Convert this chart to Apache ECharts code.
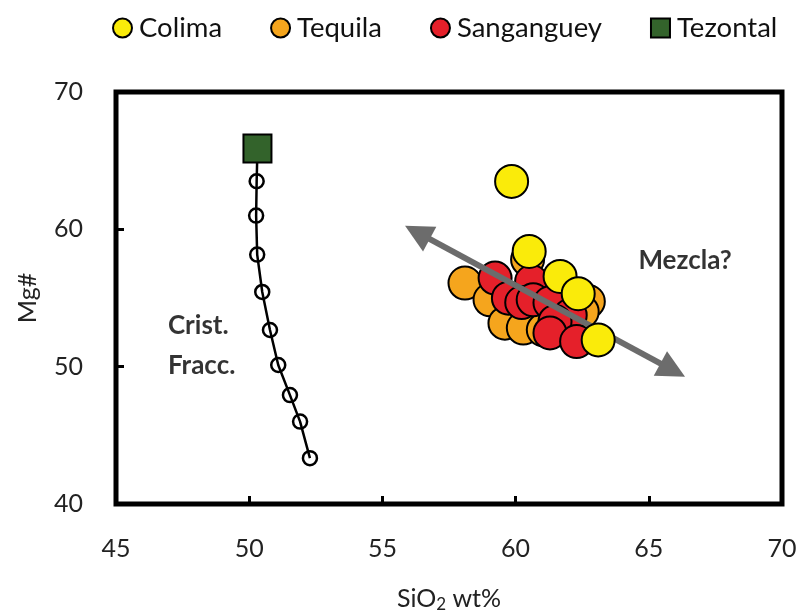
<!DOCTYPE html>
<html>
<head>
<meta charset="utf-8">
<script src="https://cdn.jsdelivr.net/npm/echarts@6/dist/echarts.min.js"></script>
<style>
  html, body { margin: 0; padding: 0; background: #fff; }
  #chart { width: 801px; height: 613px; }
</style>
</head>
<body>
<div id="chart"></div>
<script>
// SiO2 (wt%) vs Mg# for the three volcanic centres and the Tezontal parent
const colima = [
  [59.85, 63.49], [60.51, 58.39], [61.67, 56.57], [62.35, 55.31], [63.10, 51.95]
];
const tequila = [
  [58.10, 56.09], [60.45, 57.80], [59.04, 54.87], [59.60, 53.17],
  [60.29, 52.81], [61.04, 52.68], [62.73, 54.74], [62.50, 54.00]
];
const sanganguey = [
  [59.23, 56.45], [60.60, 56.20], [59.73, 54.99], [60.23, 54.67],
  [60.66, 54.87], [61.29, 54.65], [62.05, 53.75], [61.48, 53.29],
  [61.29, 52.46], [62.29, 51.83]
];
const tezontal = [[50.31, 65.88]];
// fractional crystallisation path starting from Tezontal
const fractionation = [
  [50.28, 63.50], [50.26, 61.00], [50.30, 58.16], [50.49, 55.44],
  [50.78, 52.67], [51.09, 50.12], [51.53, 47.93], [51.91, 46.00], [52.28, 43.34]
];
// mixing trend arrow (tip to tip)
const mixingArrow = [[55.85, 60.26], [66.36, 49.26]];
// text annotations: [x, y, text, align]
const notes = [
  [46.95, 51.52, 'Crist.\nFracc.', 'left'],
  [66.36, 57.71, 'Mezcla?', 'center']
];
const xTicks = { min: 45, max: 70, interval: 5 };
const yTicks = { min: 40, max: 70, interval: 10 };

const FONT = 'Lato, "Open Sans", sans-serif';
const border = { borderColor: '#000', borderWidth: 2 };
const HEAD = [28, 28];   // arrow head width, length (px)

const chart = echarts.init(document.getElementById('chart'), null, { renderer: 'canvas' });

function dotSeries(name, data, color, z) {
  return {
    name, type: 'scatter', data, z,
    symbol: 'circle', symbolSize: 33,
    itemStyle: Object.assign({ color, opacity: 1 }, border),
    emphasis: { disabled: true }
  };
}

function arrowLine(from, to) {
  return {
    silent: true, animation: false,
    symbol: ['triangle', 'triangle'], symbolSize: HEAD,
    lineStyle: { color: '#6c6c6c', width: 6, type: 'solid', opacity: 1 },
    label: { show: false },
    emphasis: { disabled: true },
    data: [[{ coord: from }, { coord: to }]]
  };
}

const option = {
  animation: false,
  backgroundColor: '#fff',
  textStyle: { fontFamily: FONT },
  legend: {
    top: 9, left: 107,
    itemWidth: 19, itemHeight: 19, itemGap: 48,
    itemStyle: { borderColor: '#000', borderWidth: 2 },
    textStyle: { fontFamily: FONT, fontSize: 27.5, color: '#111', padding: [0, 0, 0, 2] },
    data: [
      { name: 'Colima', icon: 'circle' },
      { name: 'Tequila', icon: 'circle' },
      { name: 'Sanganguey', icon: 'circle' },
      { name: 'Tezontal', icon: 'rect' }
    ]
  },
  grid: {
    left: 116, right: 19, top: 92, bottom: 109,
    outerBoundsMode: 'none', containLabel: false,
    show: true, borderColor: '#000', borderWidth: 5, backgroundColor: 'transparent'
  },
  xAxis: {
    type: 'value', min: xTicks.min, max: xTicks.max, interval: xTicks.interval,
    name: '{a|SiO}{s|2}{a| wt%}', nameLocation: 'middle', nameGap: 80,
    nameTextStyle: {
      rich: {
        a: { fontFamily: FONT, fontSize: 25, color: '#222' },
        s: { fontFamily: FONT, fontSize: 17, color: '#222', verticalAlign: 'bottom', padding: [12, 0, 0, 0] }
      }
    },
    axisLine: { show: false },
    axisTick: { show: true, inside: true, length: 8, lineStyle: { color: '#000', width: 3 } },
    axisLabel: { fontFamily: FONT, fontSize: 25, color: '#222', margin: 32 },
    splitLine: { show: false }
  },
  yAxis: {
    type: 'value', min: yTicks.min, max: yTicks.max, interval: yTicks.interval,
    name: 'Mg#', nameLocation: 'middle', nameGap: 76,
    nameTextStyle: { fontFamily: FONT, fontSize: 25, color: '#222' },
    axisLine: { show: false },
    axisTick: { show: true, inside: true, length: 8, lineStyle: { color: '#000', width: 3 } },
    axisLabel: { fontFamily: FONT, fontSize: 25, color: '#222', margin: 33 },
    splitLine: { show: false }
  },
  series: [
    {
      name: 'arrow', type: 'scatter', data: [], z: 1, silent: true,
      markLine: arrowLine(mixingArrow[0], mixingArrow[1])
    },
    {
      name: 'path', type: 'line', z: 2, silent: true,
      data: [{ value: tezontal[0], symbol: 'none' }].concat(fractionation),
      symbol: 'circle', symbolSize: 14, showAllSymbol: true,
      lineStyle: { color: '#000', width: 2.5 },
      itemStyle: { color: 'rgba(255,255,255,0)', borderColor: '#000', borderWidth: 2.5 },
      emphasis: { disabled: true }
    },
    dotSeries('Tequila', tequila, '#F5A51D', 3),
    dotSeries('Sanganguey', sanganguey, '#E5202A', 4),
    dotSeries('Colima', colima, '#FAEB0A', 5),
    {
      name: 'Tezontal', type: 'scatter', data: tezontal, z: 6,
      symbol: 'rect', symbolSize: 28,
      itemStyle: Object.assign({ color: '#33632B', opacity: 1 }, border),
      emphasis: { disabled: true }
    },
    {
      name: 'notes', type: 'scatter', z: 7, silent: true,
      symbolSize: 1, itemStyle: { color: 'rgba(0,0,0,0)' },
      data: notes.map(n => ({ value: [n[0], n[1]], label: { align: n[3] } })),
      label: {
        show: true, position: 'inside', verticalAlign: 'middle',
        fontFamily: FONT, fontWeight: 'bold', fontSize: 26, lineHeight: 40, color: '#000',
        formatter: p => notes[p.dataIndex][2]
      }
    }
  ]
};

chart.setOption(option);

// Triangle heads are centred on the line ends; pull the ends in by half a
// head length so that the tips land on the trend's end points.
(function fitArrowTips() {
  const a = chart.convertToPixel({ gridIndex: 0 }, mixingArrow[0]);
  const b = chart.convertToPixel({ gridIndex: 0 }, mixingArrow[1]);
  const dx = b[0] - a[0], dy = b[1] - a[1];
  const len = Math.hypot(dx, dy), k = HEAD[1] / 2 / len;
  const from = chart.convertFromPixel({ gridIndex: 0 }, [a[0] + dx * k, a[1] + dy * k]);
  const to = chart.convertFromPixel({ gridIndex: 0 }, [b[0] - dx * k, b[1] - dy * k]);
  chart.setOption({ series: [{ name: 'arrow', markLine: arrowLine(from, to) }] });
})();
</script>
</body>
</html>
